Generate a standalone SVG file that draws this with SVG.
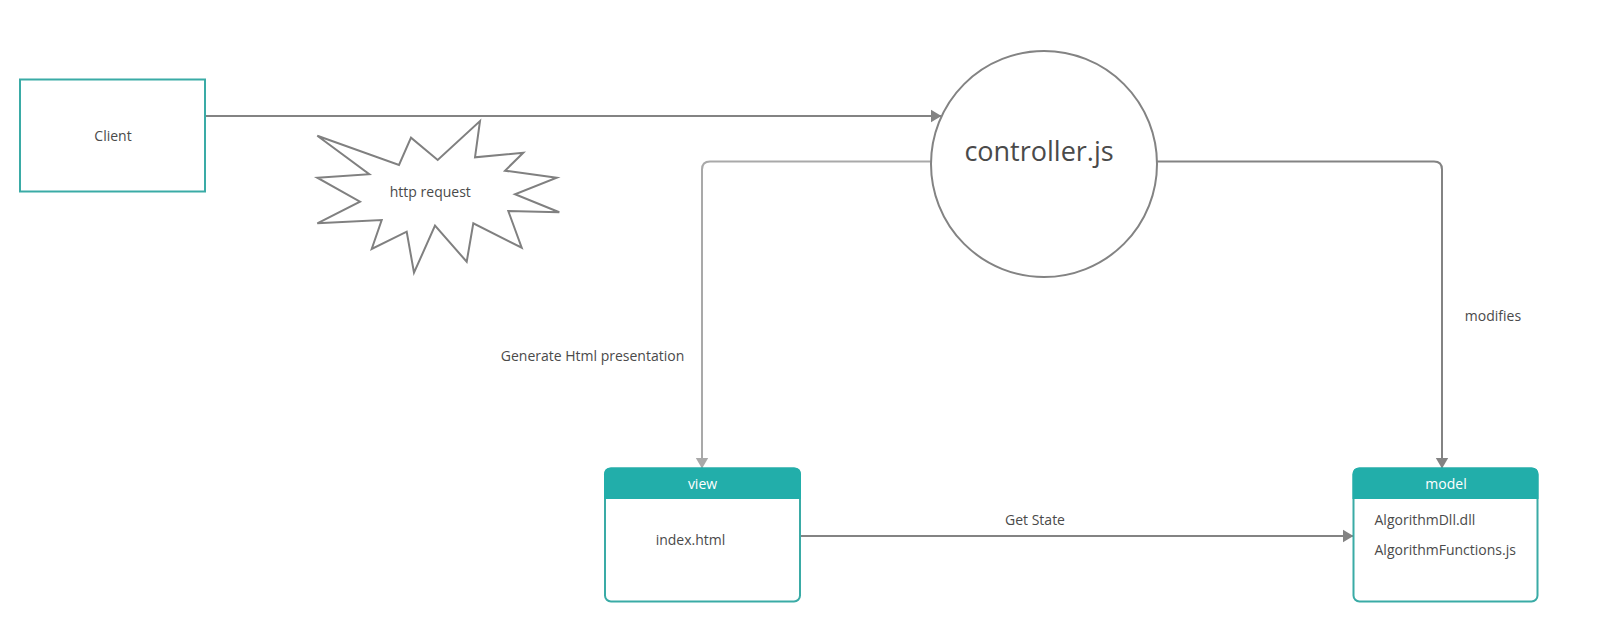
<svg xmlns="http://www.w3.org/2000/svg" width="1600" height="623" viewBox="0 0 1600 623">
<style>
.t{font-family:"Open Sans","Liberation Sans",sans-serif;font-size:14px;fill:#4a4a4a}
.w{font-family:"Open Sans","Liberation Sans",sans-serif;font-size:14px;fill:#fff}
.c{fill:none;stroke:#838383;stroke-width:2}
.cl{fill:none;stroke:#a9a9a9;stroke-width:2}
.box{fill:#fff;stroke:#3aaba6;stroke-width:2}
</style>
<defs>
<marker id="ad" markerWidth="11" markerHeight="14" refX="10.5" refY="7" orient="auto" markerUnits="userSpaceOnUse"><path d="M0,0.5 L11,7 L0,13.5 Z" fill="#838383"/></marker>
<marker id="al" markerWidth="11" markerHeight="14" refX="10.5" refY="7" orient="auto" markerUnits="userSpaceOnUse"><path d="M0,0.5 L11,7 L0,13.5 Z" fill="#a9a9a9"/></marker>
</defs>
<rect width="1600" height="623" fill="#fff"/>
<g id="connectors">
<path class="c" d="M205,116 L941,116" marker-end="url(#ad)"/>
<path class="cl" d="M931,161.5 L710,161.5 Q702,161.5 702,169.5 L702,468" marker-end="url(#al)"/>
<path class="c" d="M1157,161.5 L1434,161.5 Q1442,161.5 1442,169.5 L1442,468" marker-end="url(#ad)"/>
<path class="c" d="M800,536 L1353,536" marker-end="url(#ad)"/>
<text class="t" x="1493" y="321" text-anchor="middle">modifies</text>
<text class="t" x="592.5" y="360.5" text-anchor="middle">Generate Html presentation</text>
<text class="t" x="1035" y="525" text-anchor="middle">Get State</text>
</g>
<g id="client">
<rect class="box" x="20" y="79.5" width="185" height="112"/>
<text class="t" x="113" y="141" text-anchor="middle">Client</text>
</g>
<g id="http-request">
<polygon fill="#fff" stroke="#808080" stroke-width="2" points="317.3,135.7 399,165 411,137.7 437.7,160 480,121 475,157.3 523.3,152.7 505,170.7 556.7,177.7 515,194.3 559.3,212.3 508.3,211 521.7,247.7 473.3,223.3 466.7,261.7 435,225.7 414,272.7 406.7,231.7 371.7,249 381.7,220 317.3,223.3 360,201.7 317.3,177.7 369.3,174.3"/>
<text class="t" x="430.3" y="197" text-anchor="middle">http request</text>
</g>
<g id="controller">
<circle cx="1044" cy="164" r="113" fill="#fff" stroke="#838383" stroke-width="2"/>
<text class="t" x="1039" y="161" text-anchor="middle" style="font-size:27px">controller.js</text>
</g>
<g id="view">
<rect x="605" y="468.5" width="195" height="133" rx="6" fill="#fff" stroke="#3aaba6" stroke-width="2"/>
<path d="M604,499 L604,474.5 Q604,467.5 611,467.5 L794,467.5 Q801,467.5 801,474.5 L801,499 Z" fill="#22aeaa"/>
<text class="w" x="702.5" y="488.5" text-anchor="middle">view</text>
<text class="t" x="690.5" y="545" text-anchor="middle">index.html</text>
</g>
<g id="model">
<rect x="1353.5" y="468.5" width="184" height="133" rx="6" fill="#fff" stroke="#3aaba6" stroke-width="2"/>
<path d="M1352.5,499 L1352.5,474.5 Q1352.5,467.5 1359.5,467.5 L1531.5,467.5 Q1538.5,467.5 1538.5,474.5 L1538.5,499 Z" fill="#22aeaa"/>
<text class="w" x="1446" y="488.5" text-anchor="middle">model</text>
<text class="t" x="1374.5" y="525">AlgorithmDll.dll</text>
<text class="t" x="1374.5" y="555">AlgorithmFunctions.js</text>
</g>
</svg>
